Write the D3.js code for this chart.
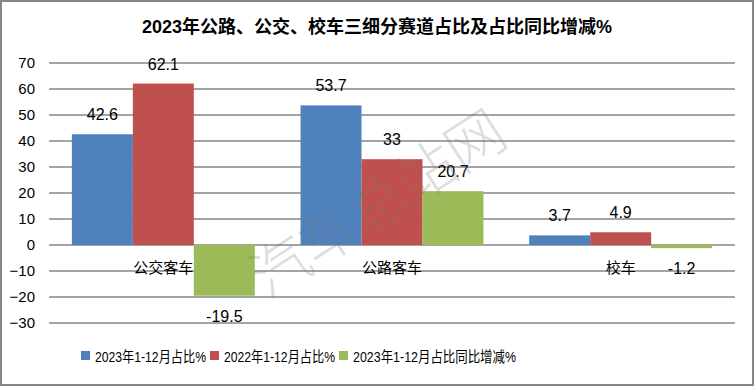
<!DOCTYPE html>
<html>
<head>
<meta charset="utf-8">
<script src="https://cdn.jsdelivr.net/npm/d3@7"></script>
<style>
  body { margin: 0; background: #fff; }
  svg text { font-family: "Liberation Sans", "Noto Sans CJK SC", sans-serif; }
</style>
</head>
<body>
<div id="chart"></div>
<script>
const categories = ['公交客车', '公路客车', '校车'];
const seriesNames = ['2023年1-12月占比%', '2022年1-12月占比%', '2023年1-12月占比同比增减%'];
const share2023 = [42.6, 53.7, 3.7];
const share2022 = [62.1, 33, 4.9];
const shareChange = [-19.5, 20.7, -1.2];
const yTicks = [-30, -20, -10, 0, 10, 20, 30, 40, 50, 60, 70];
const colors = ['#4F81BD', '#C0504D', '#9BBB59'];

const seriesValues = [share2023, share2022, shareChange];

const W = 754, H = 386;
const margin = { top: 63, right: 19, bottom: 63, left: 49 };
const width = W - margin.left - margin.right;
const height = H - margin.top - margin.bottom;

const svg = d3.select('#chart').append('svg')
    .attr('width', W)
    .attr('height', H);

svg.append('rect')
    .attr('x', 1).attr('y', 1)
    .attr('width', W - 2).attr('height', H - 2)
    .attr('fill', '#fff')
    .attr('stroke', '#868686')
    .attr('stroke-width', 2);

svg.append('text')
    .attr('x', W / 2)
    .attr('y', 33)
    .attr('text-anchor', 'middle')
    .style('font-size', '18px')
    .style('font-weight', 'bold')
    .text('2023年公路、公交、校车三细分赛道占比及占比同比增减%');

const g = svg.append('g')
    .attr('transform', `translate(${margin.left},${margin.top})`);

const x = d3.scaleBand()
    .domain(categories)
    .range([0, width])
    .paddingInner(0.2)
    .paddingOuter(0.1);

const x1 = d3.scaleBand()
    .domain(d3.range(seriesNames.length))
    .range([0, x.bandwidth()]);

const y = d3.scaleLinear()
    .domain([-30, 70])
    .range([height, 0]);

// grid lines
g.append('g')
    .selectAll('line')
    .data(yTicks)
  .enter()
    .append('line')
    .attr('x1', 0)
    .attr('x2', width)
    .attr('y1', (d) => y(d))
    .attr('y2', (d) => y(d))
    .attr('stroke', '#868686')
    .attr('stroke-width', 1.5);

const yAxis = d3.axisLeft(y)
    .tickValues(yTicks)
    .tickSize(0)
    .tickPadding(14);

g.append('g')
    .attr('class', 'y axis')
    .call(yAxis)
    .call((a) => a.select('.domain').remove())
    .selectAll('text')
    .style('font-size', '15px')
    .style('fill', '#000');

// category labels just under the zero line
g.append('g')
    .selectAll('text')
    .data(categories)
  .enter()
    .append('text')
    .attr('x', (d) => x(d) + x.bandwidth() / 2)
    .attr('y', y(0) + 28)
    .attr('text-anchor', 'middle')
    .style('font-size', '15px')
    .text((d) => d);

const rows = categories.map((c, i) => ({
  category: c,
  values: seriesValues.map((s, k) => ({ k, value: s[i] })),
}));

const group = g.selectAll('.cat')
    .data(rows)
  .enter()
    .append('g')
    .attr('class', 'cat')
    .attr('transform', (d) => `translate(${x(d.category)},0)`);

group.selectAll('rect')
    .data((d) => d.values)
  .enter()
    .append('rect')
    .attr('x', (d) => x1(d.k))
    .attr('width', x1.bandwidth())
    .attr('y', (d) => y(Math.max(0, d.value)))
    .attr('height', (d) => Math.abs(y(d.value) - y(0)))
    .attr('fill', (d) => colors[d.k]);

group.selectAll('.lbl')
    .data((d) => d.values)
  .enter()
    .append('text')
    .attr('class', 'lbl')
    .attr('x', (d) => x1(d.k) + x1.bandwidth() / 2)
    .attr('y', (d) => (d.value >= 0 ? y(d.value) - 14 : y(d.value) + 26))
    .attr('text-anchor', 'middle')
    .style('font-size', '16px')
    .text((d) => d.value);

// watermark
svg.append('text')
    .attr('transform', 'translate(378,204) rotate(-33)')
    .attr('text-anchor', 'middle')
    .attr('dy', '0.35em')
    .style('font-family', '"Noto Sans CJK SC", sans-serif')
    .style('font-size', '58px')
    .style('font-weight', '300')
    .style('fill', 'rgba(120,120,120,0.25)')
    .text('汽车总站网');

// legend
const legendX = [81, 210, 339];
const legendW = [111, 111, 163];
const legend = svg.append('g')
    .selectAll('g')
    .data(seriesNames)
  .enter()
    .append('g')
    .attr('transform', (d, i) => `translate(${legendX[i]},351)`);

legend.append('rect')
    .attr('width', 9)
    .attr('height', 9)
    .attr('fill', (d, i) => colors[i]);

legend.append('text')
    .attr('x', 14)
    .attr('y', 11)
    .attr('textLength', (d, i) => legendW[i])
    .attr('lengthAdjust', 'spacingAndGlyphs')
    .style('font-size', '15px')
    .text((d) => d);
</script>
</body>
</html>
